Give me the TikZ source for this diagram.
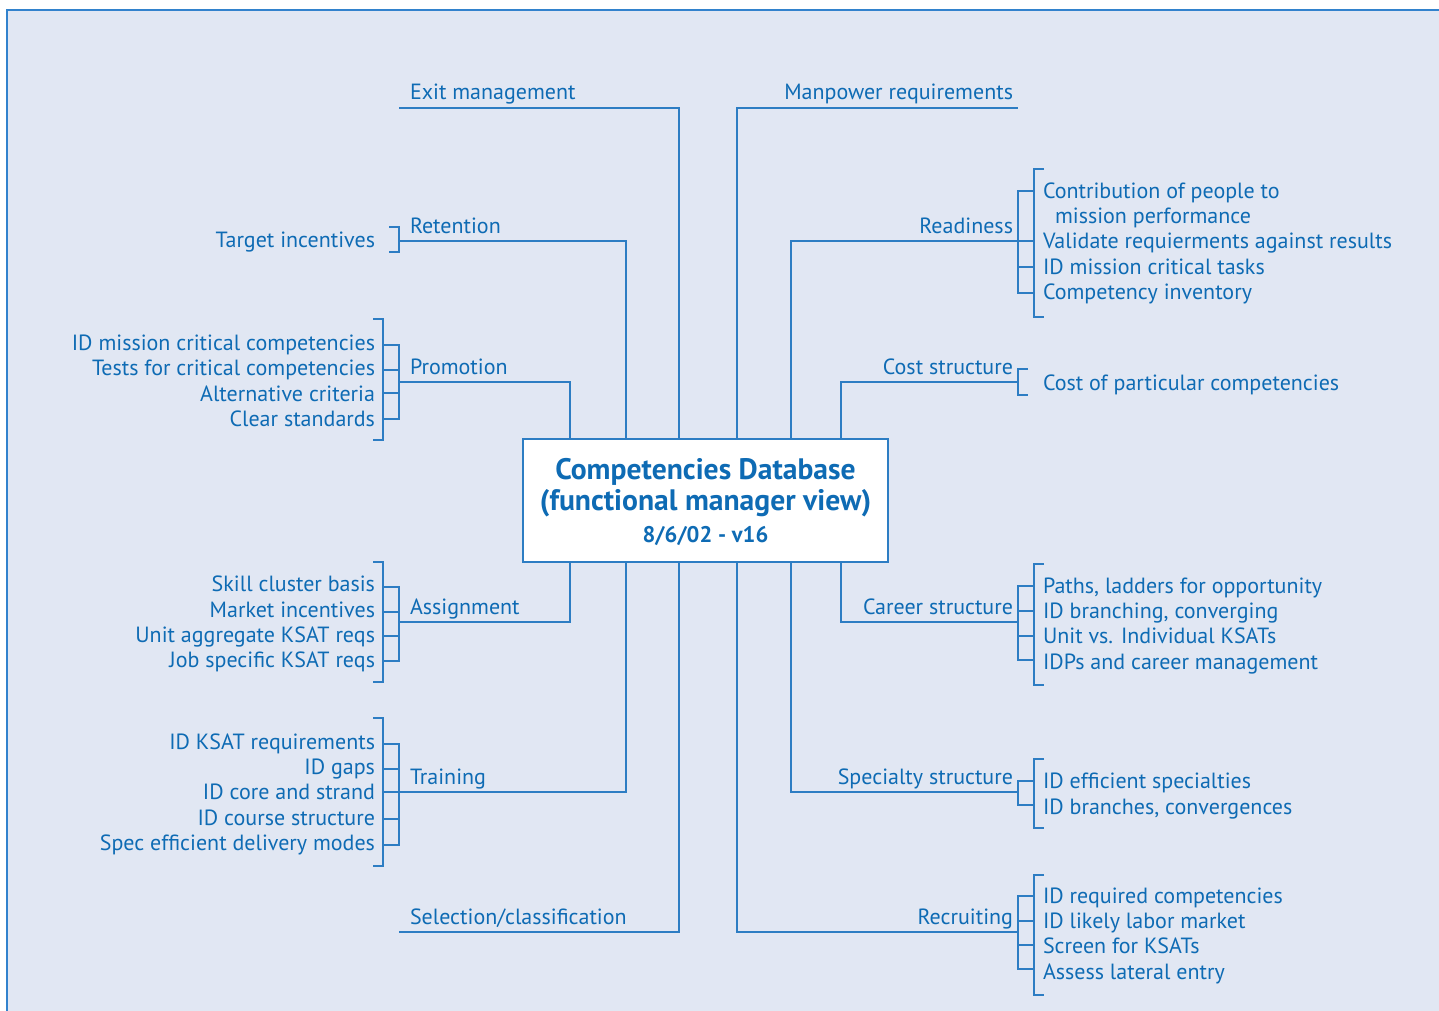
\documentclass[tikz,border=0pt]{standalone}
\usepackage{fontspec}
\setmainfont{PT Sans}
\definecolor{bgc}{RGB}{225,231,243}
\definecolor{lnc}{RGB}{45,125,195}
\definecolor{txc}{RGB}{14,107,180}
\definecolor{frc}{RGB}{50,130,205}
\begin{document}
\begin{tikzpicture}[x=0.5pt,y=-0.5pt,
  lnk/.style={draw=lnc, line width=1pt},
  txt/.style={text=txc, font=\fontsize{11}{13}\selectfont, inner sep=0pt, outer sep=0pt},
  labL/.style={txt, anchor=base west},
  labR/.style={txt, anchor=base east},
  itemL/.style={txt, anchor=base east},
  itemR/.style={txt, anchor=base west},
  boxst/.style={draw=lnc, line width=1pt, fill=white, minimum width=182.5pt, minimum height=61.5pt, inner sep=0pt, text=txc, align=center}
]
\useasboundingbox (0,0) rectangle (1439,1011);
\fill[bgc] (7,10) rectangle (1439,1011);
\draw[frc, line width=1.2pt] (7,1011) -- (7,10) -- (1439,10);

% column coordinates
\coordinate (c1) at (570,0);
\coordinate (c2) at (626,0);
\coordinate (c3) at (679,0);
\coordinate (c4) at (737,0);
\coordinate (c5) at (791,0);
\coordinate (c6) at (841,0);

% central box
\node[boxst] (box) at (705.5,500.5) {};
\node[txt, font=\fontsize{14.8}{16}\bfseries\selectfont, anchor=base] (t1) at (705.5,479) {Competencies Database};
\node[txt, font=\fontsize{14.8}{16}\bfseries\selectfont, anchor=base] (t2) at (705.5,510) {(functional manager view)};
\node[txt, font=\fontsize{11.3}{13}\bfseries\selectfont, anchor=base] (t3) at (705.5,542) {8/6/02 - v16};

% ---------------- LEFT SIDE ----------------
% Exit management
\coordinate (exitE) at (399,108);
\node[labL] (exit) at (410,100) {Exit management};
\draw[lnk] (box.north -| c3) |- (exitE);

% Retention
\coordinate (retE) at (399,241);
\node[labL] (ret) at (410,233) {Retention};
\draw[lnk] (box.north -| c2) |- (retE);
\draw[lnk] (389,227) -- (399,227) -- (399,252) -- (389,252);
\node[itemL] (ret1) at (375,247) {Target incentives};

% Promotion
\coordinate (proE) at (399,382);
\node[labL] (pro) at (410,374) {Promotion};
\draw[lnk] (box.north -| c1) |- (proE);
\draw[lnk] (373,319) -- (383,319) -- (383,440) -- (373,440);
\draw[lnk] (383,345) -- (399,345) -- (399,419) -- (383,419);
\draw[lnk] (383,370) -- (399,370);
\draw[lnk] (383,393) -- (399,393);
\node[itemL] (pro1) at (375,350) {ID mission critical competencies};
\node[itemL] (pro2) at (375,375) {Tests for critical competencies};
\node[itemL] (pro3) at (375,401) {Alternative criteria};
\node[itemL] (pro4) at (375,426) {Clear standards};

% Assignment
\coordinate (asgE) at (399,622);
\node[labL] (asg) at (410,614) {Assignment};
\draw[lnk] (box.south -| c1) |- (asgE);
\draw[lnk] (373,562) -- (383,562) -- (383,682) -- (373,682);
\draw[lnk] (383,587) -- (399,587) -- (399,661) -- (383,661);
\draw[lnk] (383,612) -- (399,612);
\draw[lnk] (383,636) -- (399,636);
\node[itemL] (asg1) at (375,591) {Skill cluster basis};
\node[itemL] (asg2) at (375,617) {Market incentives};
\node[itemL] (asg3) at (375,642) {Unit aggregate KSAT reqs};
\node[itemL] (asg4) at (375,667) {Job specific KSAT reqs};

% Training
\coordinate (trnE) at (383,792);
\node[labL] (trn) at (410,784) {Training};
\draw[lnk] (box.south -| c2) |- (trnE);
\draw[lnk] (373,718) -- (383,718) -- (383,866) -- (373,866);
\draw[lnk] (383,744) -- (399,744) -- (399,845) -- (383,845);
\draw[lnk] (383,769) -- (399,769);
\draw[lnk] (383,819) -- (399,819);
\node[itemL] (trn1) at (375,749) {ID KSAT requirements};
\node[itemL] (trn2) at (375,774) {ID gaps};
\node[itemL] (trn3) at (375,799) {ID core and strand};
\node[itemL] (trn4) at (375,825) {ID course structure};
\node[itemL] (trn5) at (375,850) {Spec efficient delivery modes};

% Selection/classification
\coordinate (selE) at (399,932);
\node[labL] (sel) at (410,924) {Selection/classification};
\draw[lnk] (box.south -| c3) |- (selE);

% ---------------- RIGHT SIDE ----------------
% Manpower requirements
\coordinate (manE) at (1018,108);
\node[labR] (man) at (1013,100) {Manpower requirements};
\draw[lnk] (box.north -| c4) |- (manE);

% Readiness
\coordinate (redE) at (1018,241);
\node[labR] (red) at (1013,233) {Readiness};
\draw[lnk] (box.north -| c5) |- (redE);
\draw[lnk] (1034,191) -- (1018,191) -- (1018,293) -- (1034,293);
\draw[lnk] (1018,241) -- (1034,241);
\draw[lnk] (1018,267) -- (1034,267);
\draw[lnk] (1044,169) -- (1034,169) -- (1034,317) -- (1044,317);
\node[itemR] (red1) at (1043,198) {Contribution of people to};
\node[itemR] (red1b) at (1055,223) {mission performance};
\node[itemR] (red2) at (1043,248) {Validate requierments against results};
\node[itemR] (red3) at (1043,274) {ID mission critical tasks};
\node[itemR] (red4) at (1043,299) {Competency inventory};

% Cost structure
\coordinate (cstE) at (1018,382);
\node[labR] (cst) at (1013,374) {Cost structure};
\draw[lnk] (box.north -| c6) |- (cstE);
\draw[lnk] (1028,369) -- (1018,369) -- (1018,395) -- (1028,395);
\node[itemR] (cst1) at (1043,390) {Cost of particular competencies};

% Career structure
\coordinate (carE) at (1018,622);
\node[labR] (car) at (1013,614) {Career structure};
\draw[lnk] (box.south -| c6) |- (carE);
\draw[lnk] (1034,586) -- (1018,586) -- (1018,660) -- (1034,660);
\draw[lnk] (1018,611) -- (1034,611);
\draw[lnk] (1018,636) -- (1034,636);
\draw[lnk] (1044,564) -- (1034,564) -- (1034,685) -- (1044,685);
\node[itemR] (car1) at (1043,593) {Paths, ladders for opportunity};
\node[itemR] (car2) at (1043,618) {ID branching, converging};
\node[itemR] (car3) at (1043,643) {Unit vs. Individual KSATs};
\node[itemR] (car4) at (1043,669) {IDPs and career management};

% Specialty structure
\coordinate (spcE) at (1018,792);
\node[labR] (spc) at (1013,784) {Specialty structure};
\draw[lnk] (box.south -| c5) |- (spcE);
\draw[lnk] (1034,781) -- (1018,781) -- (1018,805) -- (1034,805);
\draw[lnk] (1044,759) -- (1034,759) -- (1034,828) -- (1044,828);
\node[itemR] (spc1) at (1043,788) {ID efficient specialties};
\node[itemR] (spc2) at (1043,814) {ID branches, convergences};

% Recruiting
\coordinate (recE) at (1018,932);
\node[labR] (rec) at (1013,924) {Recruiting};
\draw[lnk] (box.south -| c4) |- (recE);
\draw[lnk] (1034,896) -- (1018,896) -- (1018,969) -- (1034,969);
\draw[lnk] (1018,921) -- (1034,921);
\draw[lnk] (1018,945) -- (1034,945);
\draw[lnk] (1044,875) -- (1034,875) -- (1034,995) -- (1044,995);
\node[itemR] (rec1) at (1043,903) {ID required competencies};
\node[itemR] (rec2) at (1043,928) {ID likely labor market};
\node[itemR] (rec3) at (1043,953) {Screen for KSATs};
\node[itemR] (rec4) at (1043,979) {Assess lateral entry};
\end{tikzpicture}
\end{document}
